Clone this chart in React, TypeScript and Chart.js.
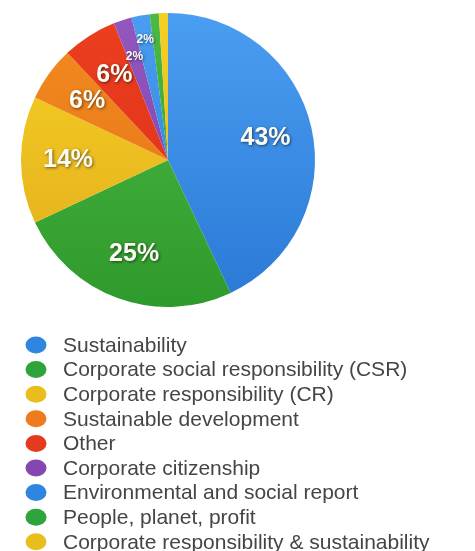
import React, { useEffect, useRef } from "react";
import { Chart, registerables } from "chart.js";

Chart.register(...registerables);

const categories = [
  "Sustainability",
  "Corporate social responsibility (CSR)",
  "Corporate responsibility (CR)",
  "Sustainable development",
  "Other",
  "Corporate citizenship",
  "Environmental and social report",
  "People, planet, profit",
  "Corporate responsibility & sustainability",
];

const shares = [43, 25, 14, 6, 6, 2, 2, 1, 1];

const sliceTopColors = [
  "#4a9ef1",
  "#4cb944",
  "#f6d125",
  "#f38b1f",
  "#ec3f1f",
  "#9357c0",
  "#4a9ef1",
  "#4cb944",
  "#f6d125",
];

const sliceBottomColors = [
  "#2a79d6",
  "#2f9a2c",
  "#e2aa1a",
  "#e27015",
  "#d92d18",
  "#7a40a8",
  "#2a79d6",
  "#2f9a2c",
  "#e2aa1a",
];

const legendColors = [
  "#2f86e0",
  "#2fa43a",
  "#e9bd1e",
  "#ee7b1e",
  "#e43a20",
  "#8447b0",
  "#2f86e0",
  "#2fa43a",
  "#e9bd1e",
];

const pieLabelsPlugin = {
  id: "pieLabels",
  afterDatasetsDraw(chart: any) {
    const ctx = chart.ctx;
    const meta = chart.getDatasetMeta(0);
    const data = chart.data.datasets[0].data as number[];
    meta.data.forEach((arc: any, i: number) => {
      const v = data[i];
      if (v < 2) return;
      const { x, y, startAngle, endAngle, outerRadius } = arc.getProps(
        ["x", "y", "startAngle", "endAngle", "outerRadius"],
        true
      );
      const mid = (startAngle + endAngle) / 2;
      const small = v < 3;
      const f = small ? (i === 5 ? 0.74 : 0.83) : 0.68;
      const px = x + Math.cos(mid) * outerRadius * f;
      const py = y + Math.sin(mid) * outerRadius * f;
      ctx.save();
      ctx.font = small
        ? "bold 12px 'Liberation Sans', Arial, sans-serif"
        : "bold 25px 'Liberation Sans', Arial, sans-serif";
      ctx.textAlign = "center";
      ctx.textBaseline = "middle";
      ctx.shadowColor = "rgba(0,0,0,0.55)";
      ctx.shadowBlur = 3;
      ctx.shadowOffsetX = 1;
      ctx.shadowOffsetY = 1;
      ctx.fillStyle = "#fbfbf4";
      ctx.fillText(v + "%", px, py);
      ctx.restore();
    });
  },
};

const customLegendPlugin = {
  id: "customLegend",
  afterDraw(chart: any) {
    const ctx = chart.ctx;
    const labels = chart.data.labels as string[];
    const startY = 337;
    const step = 24.6;
    ctx.save();
    labels.forEach((label, i) => {
      const cy = startY + i * step;
      ctx.beginPath();
      ctx.ellipse(28, cy, 10.5, 8.5, 0, 0, Math.PI * 2);
      ctx.fillStyle = legendColors[i];
      ctx.fill();
      ctx.font = "21px 'Liberation Sans', Arial, sans-serif";
      ctx.fillStyle = "#454545";
      ctx.textAlign = "left";
      ctx.textBaseline = "middle";
      ctx.fillText(label, 55, cy + 1);
    });
    ctx.restore();
  },
};

export default function App() {
  const canvasRef = useRef<HTMLCanvasElement | null>(null);

  useEffect(() => {
    if (!canvasRef.current) return;
    const chart = new Chart(canvasRef.current, {
      type: "pie",
      data: {
        labels: categories,
        datasets: [
          {
            data: shares,
            backgroundColor: (c: any) => {
              const ch = c.chart;
              const area = ch.chartArea;
              const i = c.dataIndex;
              if (!area || i === undefined) return sliceTopColors[i ?? 0];
              const g = ch.ctx.createLinearGradient(0, area.top, 0, area.bottom);
              g.addColorStop(0, sliceTopColors[i]);
              g.addColorStop(1, sliceBottomColors[i]);
              return g;
            },
            borderWidth: 0,
          },
        ],
      },
      options: {
        animation: false,
        responsive: true,
        maintainAspectRatio: false,
        layout: {
          padding: { left: 13, right: 152, top: 5, bottom: 252 },
        },
        plugins: {
          legend: { display: false },
          tooltip: { enabled: false },
        },
      },
      plugins: [pieLabelsPlugin, customLegendPlugin],
    });
    return () => chart.destroy();
  }, []);

  return (
    <div style={{ width: 459, height: 551, position: "relative" }}>
      <canvas ref={canvasRef} />
    </div>
  );
}
